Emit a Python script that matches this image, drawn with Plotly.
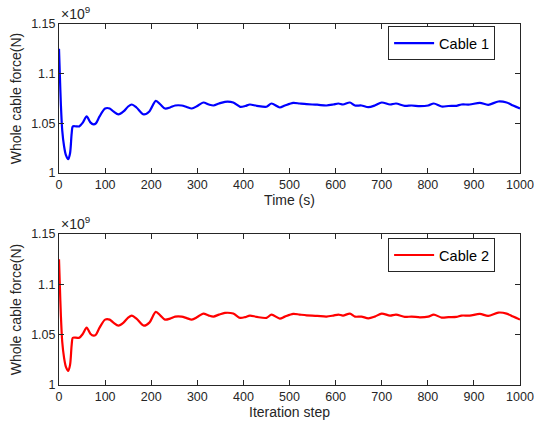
import plotly.graph_objects as go

# Data (force in units of 1e9 N)
step = [0, 2, 4, 7, 11, 15, 20, 24, 27.5, 30, 37, 44, 52, 60, 68, 75, 80, 88, 100, 110, 118, 129, 140, 150, 158, 168,
        184, 196, 210, 220, 230, 241, 252, 266, 277, 288, 300, 313, 325, 335, 347, 360, 378, 393, 404, 414, 429, 450,
        461, 479, 490, 508, 522, 537, 560, 580, 595, 606, 616, 631, 642, 656, 671, 685, 700, 718, 731, 750, 765, 783,
        801, 813, 830, 845, 862, 873, 891, 913, 931, 953, 971, 985, 1000]
cable1 = [1.125, 1.097, 1.070, 1.043, 1.027, 1.018, 1.014, 1.020, 1.040, 1.047, 1.047, 1.047, 1.051, 1.057, 1.051,
          1.049, 1.050, 1.057, 1.065, 1.065, 1.062, 1.059, 1.062, 1.067, 1.069, 1.066,
          1.059, 1.062, 1.0727, 1.069, 1.065, 1.066, 1.068, 1.068, 1.0665, 1.065, 1.0675, 1.071, 1.069, 1.068, 1.070,
          1.0717, 1.071, 1.0667, 1.0675, 1.069, 1.0677, 1.0667,
          1.070, 1.066, 1.068, 1.0707, 1.070, 1.0693, 1.0688, 1.068, 1.069, 1.070, 1.069, 1.071, 1.068, 1.068, 1.0663,
          1.068, 1.071, 1.069, 1.070, 1.0677, 1.068, 1.0673,
          1.068, 1.070, 1.067, 1.0675, 1.0677, 1.069, 1.069, 1.0707, 1.0687, 1.072, 1.071, 1.068, 1.065]
cable2 = list(cable1)

x_ticks = [0, 100, 200, 300, 400, 500, 600, 700, 800, 900, 1000]
y_ticks = [1.0, 1.05, 1.1, 1.15]
y_ticktext = ["1", "1.05", "1.1", "1.15"]

FONT = "Liberation Sans, Arial, sans-serif"
AX = "#262626"

fig = go.Figure()
fig.add_trace(go.Scatter(x=step, y=cable1, mode="lines", name="Cable 1",
                         line=dict(color="#0000FF", width=2.2, shape="spline", smoothing=0.8),
                         xaxis="x", yaxis="y", legend="legend"))
fig.add_trace(go.Scatter(x=step, y=cable2, mode="lines", name="Cable 2",
                         line=dict(color="#FF0000", width=2.2, shape="spline", smoothing=0.8),
                         xaxis="x2", yaxis="y2", legend="legend2"))

common_x = dict(range=[0, 1000], tickvals=x_ticks, ticks="inside", ticklen=5, tickcolor=AX,
                showline=True, linecolor=AX, linewidth=1, mirror="ticks", showgrid=False, zeroline=False,
                automargin=False,
                tickfont=dict(family=FONT, size=12.5, color=AX), title_font=dict(family=FONT, size=14, color=AX),
                title_standoff=4)
common_y = dict(range=[1.0, 1.15], tickvals=y_ticks, ticktext=y_ticktext, ticks="inside", ticklen=5, tickcolor=AX,
                showline=True, linecolor=AX, linewidth=1, mirror="ticks", showgrid=False, zeroline=False,
                automargin=False,
                tickfont=dict(family=FONT, size=12.5, color=AX), title_font=dict(family=FONT, size=14, color=AX),
                title_text="Whole cable force(N)", title_standoff=6)

top_dom = [0.587, 1.0]
bot_dom = [0.0, 0.418]

fig.update_layout(
    width=534, height=427,
    margin=dict(l=59, r=14, t=24, b=42),
    paper_bgcolor="white", plot_bgcolor="white",
    xaxis=dict(**common_x, domain=[0, 1], anchor="y", title_text="Time (s)"),
    yaxis=dict(**common_y, domain=top_dom, anchor="x"),
    xaxis2=dict(**common_x, domain=[0, 1], anchor="y2", title_text="Iteration step"),
    yaxis2=dict(**common_y, domain=bot_dom, anchor="x2"),
    legend=dict(x=0.946, y=0.994, xanchor="right", yanchor="top", bgcolor="white",
                bordercolor=AX, borderwidth=1, font=dict(family=FONT, size=14.5, color="black"),
                tracegroupgap=0, itemwidth=40),
    legend2=dict(x=0.946, y=0.407, xanchor="right", yanchor="top", bgcolor="white",
                 bordercolor=AX, borderwidth=1, font=dict(family=FONT, size=14.5, color="black"),
                 tracegroupgap=0, itemwidth=40),
    showlegend=True,
    annotations=[
        dict(text="×10<sup>9</sup>", xref="paper", yref="paper", x=0.0, y=1.0, xanchor="left", yanchor="bottom",
             showarrow=False, font=dict(family=FONT, size=14, color=AX)),
        dict(text="×10<sup>9</sup>", xref="paper", yref="paper", x=0.0, y=bot_dom[1], xanchor="left",
             yanchor="bottom", showarrow=False, font=dict(family=FONT, size=14, color=AX)),
    ],
)

fig.write_html("out.html")
